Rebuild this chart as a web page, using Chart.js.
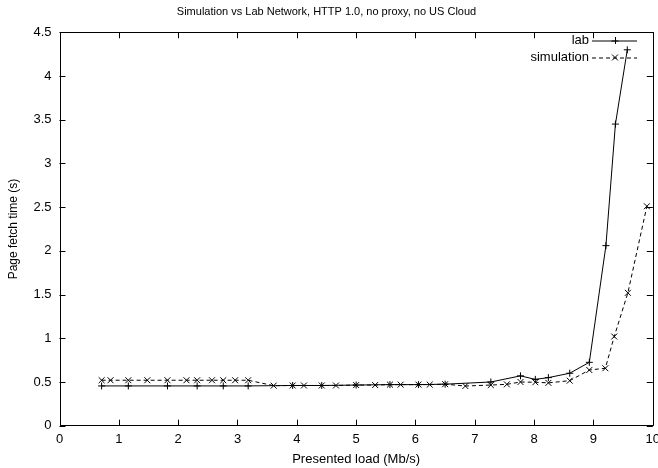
<!DOCTYPE html>
<html>
<head>
<meta charset="utf-8">
<script src="https://cdn.jsdelivr.net/npm/chart.js@4/dist/chart.umd.min.js"></script>
<style>
  html, body { margin: 0; padding: 0; background: #fff; }
  #wrap { width: 658px; height: 468px; }
</style>
</head>
<body>
<div id="wrap"><canvas id="fetchChart"></canvas></div>
<script>
    // values
    const labLoad = [0.71, 1.16, 1.82, 2.32, 2.76, 3.18, 3.93, 4.42, 5.0, 5.57, 6.05, 6.5, 7.27, 7.77, 8.02, 8.24, 8.6, 8.93, 9.21, 9.37, 9.57];
    const labTime = [0.455, 0.455, 0.455, 0.455, 0.455, 0.455, 0.46, 0.46, 0.465, 0.47, 0.47, 0.475, 0.50, 0.57, 0.53, 0.55, 0.60, 0.725, 2.06, 3.45, 4.30];

    const simLoad = [0.71, 0.86, 1.16, 1.48, 1.82, 2.14, 2.32, 2.57, 2.76, 2.96, 3.18, 3.61, 3.93, 4.12, 4.42, 4.66, 5.0, 5.32, 5.57, 5.75, 6.05, 6.24, 6.5, 6.84, 7.27, 7.54, 7.77, 8.02, 8.24, 8.6, 8.93, 9.2, 9.35, 9.58, 9.9];
    const simTime = [0.52, 0.52, 0.52, 0.52, 0.52, 0.52, 0.52, 0.52, 0.52, 0.52, 0.52, 0.458, 0.46, 0.46, 0.46, 0.46, 0.465, 0.465, 0.47, 0.47, 0.47, 0.47, 0.475, 0.454, 0.465, 0.473, 0.50, 0.497, 0.49, 0.515, 0.637, 0.657, 1.02, 1.52, 2.51];

    const xTicks = [0, 1, 2, 3, 4, 5, 6, 7, 8, 9, 10];
    const yTicks = [0, 0.5, 1, 1.5, 2, 2.5, 3, 3.5, 4, 4.5];

    const FONT = 'Liberation Sans, Arial, Helvetica, sans-serif';

    function toPoints(xs, ys) {
      return xs.map((x, i) => ({ x: x, y: ys[i] }));
    }

    // gnuplot style frame: full border with inward ticks on all four sides
    const framePlugin = {
      id: 'frame',
      afterDraw(chart) {
        const ctx = chart.ctx;
        const a = chart.chartArea;
        const xs = chart.scales.x, ys = chart.scales.y;
        const t = 6;
        ctx.save();
        ctx.strokeStyle = '#000';
        ctx.lineWidth = 1;
        ctx.beginPath();
        ctx.rect(Math.round(a.left) + 0.5, Math.round(a.top) + 0.5, Math.round(a.right - a.left), Math.round(a.bottom - a.top));
        xTicks.forEach(v => {
          const px = Math.round(xs.getPixelForValue(v)) + 0.5;
          ctx.moveTo(px, a.bottom); ctx.lineTo(px, a.bottom - t);
          ctx.moveTo(px, a.top); ctx.lineTo(px, a.top + t);
        });
        yTicks.forEach(v => {
          const py = Math.round(ys.getPixelForValue(v)) + 0.5;
          ctx.moveTo(a.left, py); ctx.lineTo(a.left + t, py);
          ctx.moveTo(a.right, py); ctx.lineTo(a.right - t, py);
        });
        ctx.stroke();

        // key, top right, text right aligned then the sample
        const rows = [40.5, 57.5];
        ctx.font = '13px ' + FONT;
        ctx.fillStyle = '#000';
        ctx.textAlign = 'right';
        ctx.textBaseline = 'middle';
        chart.data.datasets.forEach((ds, i) => {
          const y = rows[i];
          ctx.fillText(ds.label, 589, y);
          ctx.beginPath();
          ctx.setLineDash(ds.borderDash || []);
          ctx.moveTo(592, y + 0.5); ctx.lineTo(637, y + 0.5);
          ctx.stroke();
          ctx.setLineDash([]);
          const mx = 615, r = ds.pointRadius;
          ctx.beginPath();
          if (ds.pointStyle === 'cross') {
            ctx.moveTo(mx - r, y + 0.5); ctx.lineTo(mx + r, y + 0.5);
            ctx.moveTo(mx + 0.5, y - r); ctx.lineTo(mx + 0.5, y + r);
          } else {
            const d = r * Math.SQRT1_2;
            ctx.moveTo(mx - d, y - d); ctx.lineTo(mx + d, y + d);
            ctx.moveTo(mx - d, y + d); ctx.lineTo(mx + d, y - d);
          }
          ctx.stroke();
        });
        ctx.restore();
      }
    };

    const ctx = document.getElementById('fetchChart').getContext('2d');
    const chart = new Chart(ctx, {
      type: 'scatter',
      data: {
        datasets: [{
          label: 'lab',
          data: toPoints(labLoad, labTime),
          showLine: true,
          borderColor: '#000',
          backgroundColor: '#000',
          borderWidth: 1,
          pointStyle: 'cross',
          pointRadius: 3.5,
          pointBorderWidth: 1,
          pointBorderColor: '#000'
        }, {
          label: 'simulation',
          data: toPoints(simLoad, simTime),
          showLine: true,
          borderColor: '#000',
          backgroundColor: '#000',
          borderWidth: 1,
          borderDash: [4, 3],
          pointStyle: 'crossRot',
          pointRadius: 4.2,
          pointBorderWidth: 1,
          pointBorderColor: '#000'
        }]
      },
      options: {
        responsive: true,
        maintainAspectRatio: false,
        animation: false,
        devicePixelRatio: 1,
        layout: { padding: { left: 0, right: 5, top: 0, bottom: 0 } },
        plugins: {
          legend: { display: false },
          tooltip: { enabled: false },
          title: {
            display: true,
            text: 'Simulation vs Lab Network, HTTP 1.0, no proxy, no US Cloud',
            color: '#000',
            font: { family: FONT, size: 11, weight: 'normal' },
            padding: { top: 5.2, bottom: 13.9 }
          }
        },
        scales: {
          x: {
            type: 'linear',
            min: 0,
            max: 10,
            afterBuildTicks: (scale) => { scale.ticks = xTicks.map(v => ({ value: v })); },
            afterFit: (scale) => { scale.height = 42.3; scale.paddingLeft = 0; scale.paddingRight = 0; },
            grid: { display: false, drawTicks: false },
            border: { display: false },
            ticks: {
              color: '#000',
              padding: 6,
              maxRotation: 0,
              autoSkip: false,
              font: { family: FONT, size: 13 },
              callback: (v) => String(v)
            },
            title: {
              display: true,
              text: 'Presented load (Mb/s)',
              color: '#000',
              font: { family: FONT, size: 13 },
              padding: { top: 0, bottom: 1.2 }
            }
          },
          y: {
            type: 'linear',
            min: 0,
            max: 4.5,
            afterBuildTicks: (scale) => { scale.ticks = yTicks.map(v => ({ value: v })); },
            afterFit: (scale) => { scale.width = 59.5; },
            grid: { display: false, drawTicks: false },
            border: { display: false },
            ticks: {
              color: '#000',
              padding: 8,
              autoSkip: false,
              font: { family: FONT, size: 13 },
              callback: (v) => String(v)
            },
            title: {
              display: true,
              text: 'Page fetch time (s)',
              color: '#000',
              font: { family: FONT, size: 12 },
              padding: { top: 6, bottom: 4 }
            }
          }
        }
      },
      plugins: [framePlugin]
    });
</script>
</body>
</html>
